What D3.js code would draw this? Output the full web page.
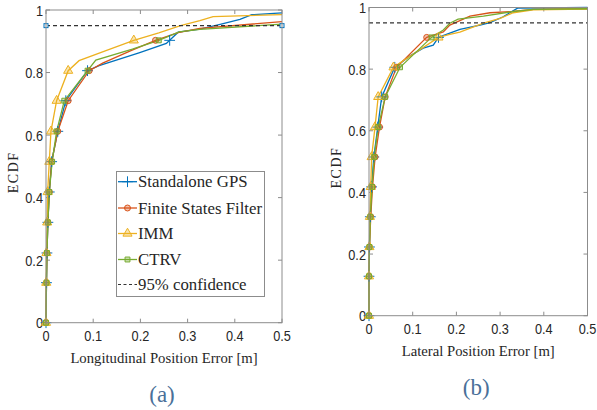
<!DOCTYPE html>
<html>
<head>
<meta charset="utf-8">
<script src="https://cdn.jsdelivr.net/npm/d3@7"></script>
<style>
  body { margin: 0; background: #fff; }
</style>
</head>
<body>
<div id="wrapper"></div>
<script>
// ECDF levels where the markers sit (shared by every curve)
const markerLevels = [0, 0.128, 0.223, 0.321, 0.418, 0.515, 0.612, 0.71, 0.806, 0.903];
const seriesNames = ["Standalone GPS", "Finite States Filter", "IMM", "CTRV"];
const xTicks = [0, 0.1, 0.2, 0.3, 0.4, 0.5];
const yTicks = [0, 0.2, 0.4, 0.6, 0.8, 1];
const confidence = 0.95;

// (a) longitudinal: x of each marker, then extra line points
const lonGpsMx = [0, 0.001, 0.002, 0.004, 0.007, 0.012, 0.025, 0.042, 0.088, 0.262];
const lonGpsX  = [0.1125, 0.197, 0.255, 0.28, 0.326, 0.369, 0.411, 0.436, 0.5];
const lonGpsY  = [0.822, 0.863, 0.893, 0.929, 0.939, 0.954, 0.970, 0.985, 0.991];
const lonFsfMx = [0, 0.001, 0.002, 0.004, 0.007, 0.012, 0.025, 0.047, 0.0915, 0.232];
const lonFsfX  = [0.12, 0.18, 0.28, 0.326, 0.5];
const lonFsfY  = [0.83, 0.87, 0.928, 0.941, 0.963];
const lonImmMx = [0, 0.0005, 0.001, 0.0025, 0.0035, 0.007, 0.0105, 0.0225, 0.047, 0.186];
const lonImmX  = [0.070, 0.127, 0.239, 0.285, 0.326, 0.354, 0.5];
const lonImmY  = [0.838, 0.870, 0.927, 0.95, 0.966, 0.979, 0.985];
const lonCtrvMx = [0, 0.001, 0.002, 0.004, 0.007, 0.013, 0.0225, 0.0387, 0.088, 0.239];
const lonCtrvX  = [0.1055, 0.183, 0.282, 0.326, 0.5];
const lonCtrvY  = [0.840, 0.875, 0.93, 0.938, 0.955];

// (b) lateral
const latGpsMx = [0, 0, 0.001, 0.003, 0.006, 0.011, 0.02, 0.029, 0.059, 0.159];
const latGpsX  = [0.094, 0.124, 0.147, 0.208, 0.254, 0.277, 0.307, 0.340, 0.5];
const latGpsY  = [0.843, 0.868, 0.878, 0.929, 0.943, 0.951, 0.970, 0.998, 1.0];
const latFsfMx = [0, 0, 0.001, 0.004, 0.008, 0.014, 0.024, 0.037, 0.063, 0.132];
const latFsfX  = [0.170, 0.185, 0.231, 0.277, 0.330, 0.376, 0.5];
const latFsfY  = [0.921, 0.943, 0.972, 0.983, 0.987, 0.994, 0.996];
const latImmMx = [0, 0, 0.001, 0.002, 0.004, 0.006, 0.0137, 0.021, 0.056, 0.159];
const latImmX  = [0.185, 0.208, 0.262, 0.30, 0.33, 0.376, 0.5];
const latImmY  = [0.913, 0.920, 0.949, 0.965, 0.983, 0.992, 0.995];
const latCtrvMx = [0, 0, 0.001, 0.003, 0.007, 0.012, 0.021, 0.037, 0.071, 0.143];
const latCtrvX  = [0.170, 0.185, 0.204, 0.262, 0.33, 0.376, 0.5];
const latCtrvY  = [0.927, 0.949, 0.962, 0.972, 0.987, 0.994, 0.996];

const colors = ["#0072BD", "#D95319", "#EDB120", "#77AC30"];
const symbols = [d3.symbolPlus, d3.symbolCircle, d3.symbolTriangle, d3.symbolSquare];
const symSize = [40, 28, 36, 24];

const serifFont = '"Liberation Serif"';
const sansFont = '"Liberation Sans"';

const panels = [
  { label: "Longitudinal Position Error [m]", tag: "(a)",
    x0: 46, x1: 282, y0: 322.7, y1: 10, legend: true, endMarks: true,
    mx: [lonGpsMx, lonFsfMx, lonImmMx, lonCtrvMx],
    ex: [lonGpsX, lonFsfX, lonImmX, lonCtrvX],
    ey: [lonGpsY, lonFsfY, lonImmY, lonCtrvY] },
  { label: "Lateral Position Error [m]", tag: "(b)",
    x0: 369, x1: 587.5, y0: 315.7, y1: 7.5, legend: false, endMarks: false,
    mx: [latGpsMx, latFsfMx, latImmMx, latCtrvMx],
    ex: [latGpsX, latFsfX, latImmX, latCtrvX],
    ey: [latGpsY, latFsfY, latImmY, latCtrvY] }
];

const svg = d3.select("#wrapper").append("svg")
  .attr("width", 597).attr("height", 410);

function drawMarker(g, x, y, i) {
  g.append("path")
    .attr("d", d3.symbol(symbols[i], symSize[i])())
    .attr("transform", `translate(${x},${y})`)
    .attr("fill", i === 0 ? "none" : colors[i])
    .attr("fill-opacity", 0.35)
    .attr("stroke", colors[i])
    .attr("stroke-width", 1);
}

// narrow tick label: squeeze horizontally like the reference
function tickText(g, x, y, anchor, txt) {
  g.append("text")
    .attr("transform", `translate(${x},${y}) scale(0.85,1)`)
    .attr("text-anchor", anchor)
    .style("font-family", sansFont).style("font-size", "15px").style("fill", "#262626")
    .text(txt);
}

function serifText(g, size, fill) {
  return g.append("text").style("font-family", serifFont)
    .style("font-size", size).style("fill", fill || "#262626");
}

panels.forEach(p => {
  const x = d3.scaleLinear().domain([0, 0.5]).range([p.x0, p.x1]);
  const y = d3.scaleLinear().domain([0, 1]).range([p.y0, p.y1]);
  const g = svg.append("g");

  // ticks pointing inward on all four sides
  const tk = 4;
  xTicks.forEach(t => {
    g.append("line").attr("x1", x(t)).attr("x2", x(t)).attr("y1", p.y0).attr("y2", p.y0 - tk).attr("stroke", "#8c8c8c");
    g.append("line").attr("x1", x(t)).attr("x2", x(t)).attr("y1", p.y1).attr("y2", p.y1 + tk).attr("stroke", "#8c8c8c");
    tickText(g, x(t), p.y0 + 18, "middle", t === 0 ? "0" : d3.format(".1f")(t));
  });
  yTicks.forEach(t => {
    g.append("line").attr("x1", p.x0).attr("x2", p.x0 + tk).attr("y1", y(t)).attr("y2", y(t)).attr("stroke", "#8c8c8c");
    g.append("line").attr("x1", p.x1).attr("x2", p.x1 - tk).attr("y1", y(t)).attr("y2", y(t)).attr("stroke", "#8c8c8c");
    tickText(g, p.x0 - 3, y(t) + 5.5, "end", t === 0 || t === 1 ? String(t) : d3.format(".1f")(t));
  });

  // curves
  const line = d3.line().x(d => x(d[0])).y(d => y(d[1]));
  const cg = g.append("g");
  for (let i = 0; i < 4; i++) {
    const pts = p.mx[i].map((v, k) => [v, markerLevels[k]])
      .concat(p.ex[i].map((v, k) => [v, p.ey[i][k]]));
    pts.sort((a, b) => a[1] - b[1] || a[0] - b[0]);
    cg.append("path").datum(pts).attr("d", line)
      .attr("fill", "none").attr("stroke", colors[i]).attr("stroke-width", 1.3);
  }
  for (let i = 0; i < 4; i++) {
    p.mx[i].forEach((v, k) => drawMarker(cg, x(v), y(markerLevels[k]), i));
  }

  // 95% line
  g.append("line").attr("x1", x(0)).attr("x2", x(0.5))
    .attr("y1", y(confidence)).attr("y2", y(confidence))
    .attr("stroke", "#333").attr("stroke-width", 1.2).attr("stroke-dasharray", "4,3");
  if (p.endMarks) {
    [0, 0.5].forEach(v => g.append("rect")
      .attr("x", x(v) - 2).attr("y", y(confidence) - 2).attr("width", 4).attr("height", 4)
      .attr("fill", "#fff").attr("stroke", colors[0]).attr("stroke-width", 1));
  }

  // box
  g.append("rect").attr("x", p.x0).attr("y", p.y1)
    .attr("width", p.x1 - p.x0).attr("height", p.y0 - p.y1)
    .attr("fill", "none").attr("stroke", "#8c8c8c").attr("stroke-width", 1);

  // labels
  serifText(g, "14px")
    .attr("transform", `translate(${p.x0 - 28},${(p.y0 + p.y1) / 2 + 6}) rotate(-90)`)
    .attr("text-anchor", "middle").attr("letter-spacing", "1.5px").text("ECDF");
  serifText(g, "14.7px")
    .attr("x", (p.x0 + p.x1) / 2).attr("y", p.y0 + 40.5)
    .attr("text-anchor", "middle").text(p.label);
  serifText(g, "23px", "#4a7099")
    .attr("x", (p.x0 + p.x1) / 2 - 2).attr("y", p.y0 + 79)
    .attr("text-anchor", "middle").text(p.tag);

  if (p.legend) {
    const lg = g.append("g");
    lg.append("rect").attr("x", 116.5).attr("y", 171.5).attr("width", 148).attr("height", 125)
      .attr("fill", "#fff").attr("stroke", "#8c8c8c");
    const rowY = [181.7, 208, 233.5, 259.5, 284.5];
    const names = seriesNames.concat(["95% confidence"]);
    names.forEach((n, i) => {
      if (i < 4) {
        lg.append("line").attr("x1", 118).attr("x2", 137).attr("y1", rowY[i]).attr("y2", rowY[i])
          .attr("stroke", colors[i]).attr("stroke-width", 1.3);
        drawMarker(lg, 127.5, rowY[i], i);
      } else {
        lg.append("line").attr("x1", 118).attr("x2", 137).attr("y1", rowY[i]).attr("y2", rowY[i])
          .attr("stroke", "#333").attr("stroke-width", 1.2).attr("stroke-dasharray", "3,2.5");
      }
      serifText(lg, "16.8px").attr("x", 138).attr("y", rowY[i] + 5.5).text(n);
    });
  }
});
</script>
</body>
</html>
